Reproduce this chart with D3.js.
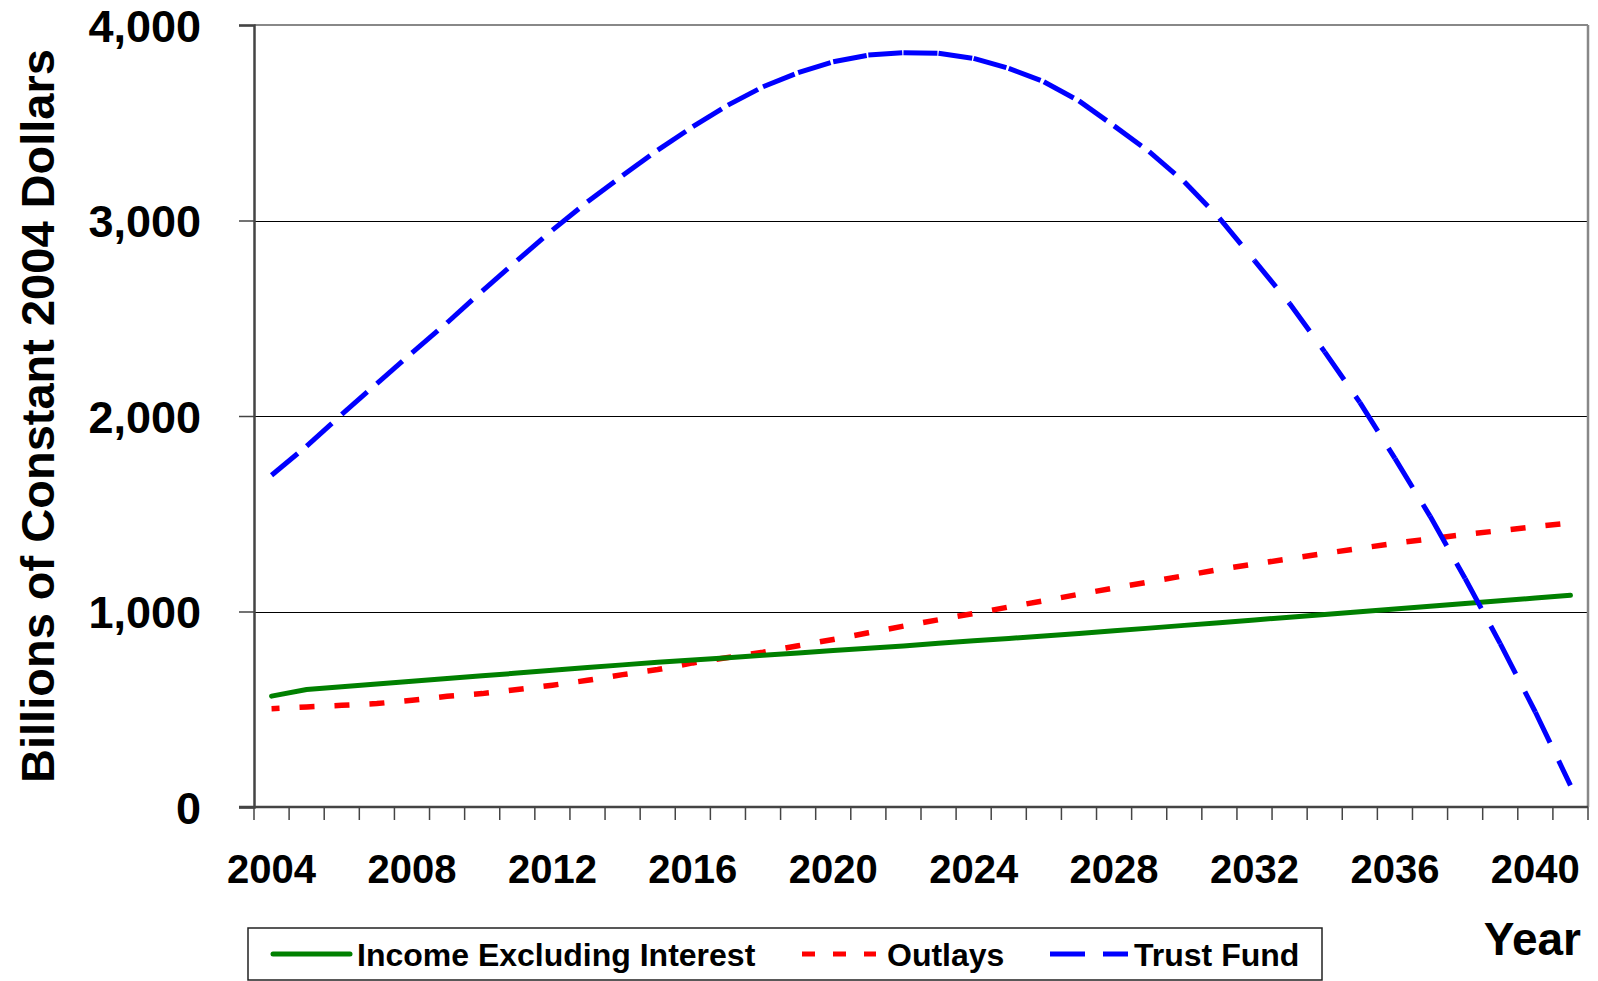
<!DOCTYPE html>
<html>
<head>
<meta charset="utf-8">
<script src="https://cdn.jsdelivr.net/npm/d3@7/dist/d3.min.js"></script>
<style>
  body { margin: 0; background: #fff; }
  text { font-family: "Liberation Sans", Arial, sans-serif; font-weight: bold; fill: #000; }
</style>
</head>
<body>
<script>
var width = 1598,
    height = 981;

// data, billions of constant 2004 dollars
var years = d3.range(2004, 2042);
var incomeValues = [567, 601, 615, 629, 643, 657, 671, 685, 699, 713,
                    727, 740, 752, 764, 776, 788, 800, 812, 824, 837,
                    850, 862, 875, 888, 901, 915, 929, 943, 957, 971,
                    985, 999, 1013, 1027, 1041, 1055, 1069, 1083];
var outlayValues = [503, 512, 520, 529, 546, 566, 580, 601, 623, 648,
                    677, 703, 737, 765, 792, 825, 857, 891, 925, 958,
                    990, 1023, 1055, 1088, 1120, 1151, 1183, 1215, 1243, 1270,
                    1297, 1323, 1349, 1372, 1394, 1414, 1434, 1453];
var trustValues = [1697, 1846, 2008, 2166, 2323, 2477, 2639, 2796, 2951, 3096,
                   3230, 3360, 3480, 3590, 3684, 3756, 3812, 3846, 3858, 3855,
                   3829, 3778, 3710, 3612, 3484, 3352, 3198, 3012, 2795, 2575,
                   2328, 2070, 1783, 1488, 1169, 836, 486, 111];
var yTicks = [0, 1000, 2000, 3000, 4000];
var xLabelYears = [2004, 2008, 2012, 2016, 2020, 2024, 2028, 2032, 2036, 2040];
var seriesNames = ["Income Excluding Interest", "Outlays", "Trust Fund"];

var plot = { left: 254, top: 25, right: 1588, bottom: 807 };

var xRange = d3.scaleBand().domain(years).range([plot.left, plot.right]),
    yRange = d3.scaleLinear().domain([0, 4000]).range([plot.bottom, plot.top]);

function xc(yr) { return xRange(yr) + xRange.bandwidth() / 2; }

var svg = d3.select("body").append("svg")
    .attr("width", width)
    .attr("height", height);

// gridlines
svg.append("g")
    .selectAll("line")
    .data(yTicks.filter(function(d) { return d > 0 && d < 4000; }))
    .join("line")
    .attr("x1", plot.left).attr("x2", plot.right)
    .attr("y1", function(d) { return Math.round(yRange(d)) + 0.5; })
    .attr("y2", function(d) { return Math.round(yRange(d)) + 0.5; })
    .attr("stroke", "#000")
    .attr("stroke-width", 1);

// plot frame top/right
svg.append("line")
    .attr("x1", plot.left).attr("x2", plot.right)
    .attr("y1", plot.top).attr("y2", plot.top)
    .attr("stroke", "#888").attr("stroke-width", 2);
svg.append("line")
    .attr("x1", plot.right).attr("x2", plot.right)
    .attr("y1", plot.top).attr("y2", plot.bottom)
    .attr("stroke", "#888").attr("stroke-width", 2.5);

// y axis
var yAxis = svg.append("g")
    .attr("transform", "translate(" + plot.left + ",0)")
    .call(d3.axisLeft(yRange).tickValues(yTicks).tickSize(15).tickPadding(38)
        .tickFormat(d3.format(",")));
yAxis.select(".domain").attr("stroke", "#444").attr("stroke-width", 2.5);
yAxis.selectAll(".tick line").attr("stroke", "#444").attr("stroke-width", 1.5);
yAxis.selectAll(".tick text")
    .attr("font-size", 45)
    .attr("dy", "0.36em")
    .attr("font-family", "Liberation Sans, Arial, sans-serif")
    .attr("font-weight", "bold")
    .attr("fill", "#000");

// x axis: ticks on category boundaries
var xAxis = svg.append("g");
xAxis.append("line")
    .attr("x1", plot.left - 15).attr("x2", plot.right)
    .attr("y1", plot.bottom).attr("y2", plot.bottom)
    .attr("stroke", "#444").attr("stroke-width", 2.5);
xAxis.selectAll("line.tick")
    .data(years.concat([2042]))
    .join("line")
    .attr("class", "tick")
    .attr("x1", function(d) { return d === 2042 ? plot.right : xRange(d); })
    .attr("x2", function(d) { return d === 2042 ? plot.right : xRange(d); })
    .attr("y1", plot.bottom).attr("y2", plot.bottom + 13)
    .attr("stroke", "#444").attr("stroke-width", 1.5);
xAxis.selectAll("text")
    .data(xLabelYears)
    .join("text")
    .attr("x", function(d) { return xc(d); })
    .attr("y", 883)
    .attr("text-anchor", "middle")
    .attr("font-size", 40)
    .text(function(d) { return d; });

// axis titles
svg.append("text")
    .attr("transform", "translate(54,416) rotate(-90)")
    .attr("text-anchor", "middle")
    .attr("font-size", 47)
    .text("Billions of Constant 2004 Dollars");

svg.append("text")
    .attr("x", 1581).attr("y", 955)
    .attr("text-anchor", "end")
    .attr("font-size", 46)
    .text("Year");

// series
var line = d3.line()
    .x(function(d, i) { return xc(years[i]); })
    .y(function(d) { return yRange(d); });

svg.append("path")
    .datum(outlayValues)
    .attr("d", line)
    .attr("fill", "none")
    .attr("stroke", "#ff0000")
    .attr("stroke-width", 5.5)
    .attr("stroke-dasharray", "15,20")
    .attr("stroke-dashoffset", 7);

svg.append("path")
    .datum(incomeValues)
    .attr("d", line)
    .attr("fill", "none")
    .attr("stroke", "#008000")
    .attr("stroke-width", 5)
    .attr("stroke-linecap", "round")
    .attr("stroke-linejoin", "round");

// trust fund: dash pattern restarts on each year segment
var trustSegments = d3.pairs(trustValues.map(function(v, i) { return [xc(years[i]), yRange(v)]; }));
svg.append("g")
    .selectAll("line")
    .data(trustSegments)
    .join("line")
    .attr("x1", function(d) { return d[0][0]; })
    .attr("y1", function(d) { return d[0][1]; })
    .attr("x2", function(d) { return d[1][0]; })
    .attr("y2", function(d) { return d[1][1]; })
    .attr("stroke", "#0000ff")
    .attr("stroke-width", 5)
    .attr("stroke-dasharray", "34,20");

// legend
var legend = svg.append("g");
legend.append("rect")
    .attr("x", 248).attr("y", 928)
    .attr("width", 1074).attr("height", 52)
    .attr("fill", "#fff")
    .attr("stroke", "#222")
    .attr("stroke-width", 1.5);

var legendItems = [
    { name: seriesNames[0], x1: 273, x2: 350, tx: 357, color: "#008000", dash: null },
    { name: seriesNames[1], x1: 802, x2: 876, tx: 887, color: "#ff0000", dash: "13,18" },
    { name: seriesNames[2], x1: 1050, x2: 1128, tx: 1134, color: "#0000ff", dash: "35,18" }
];

legendItems.forEach(function(item) {
    legend.append("line")
        .attr("x1", item.x1).attr("x2", item.x2)
        .attr("y1", 954).attr("y2", 954)
        .attr("stroke", item.color)
        .attr("stroke-width", 5)
        .attr("stroke-linecap", item.dash ? "butt" : "round")
        .attr("stroke-dasharray", item.dash);
    legend.append("text")
        .attr("x", item.tx).attr("y", 966)
        .attr("font-size", 32)
        .text(item.name);
});
</script>
</body>
</html>
